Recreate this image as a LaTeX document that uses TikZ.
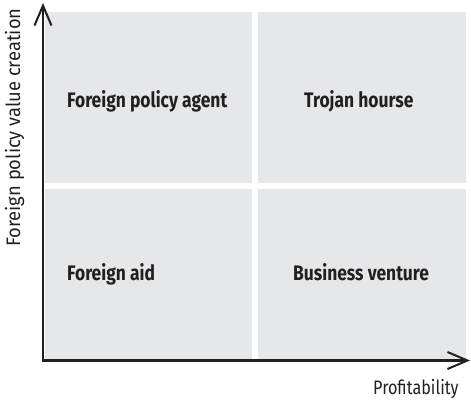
\documentclass[tikz,border=0pt]{standalone}
\usepackage{fontspec}
\setmainfont[FakeStretch=0.83]{Fira Sans}
\newfontfamily\widesans[FakeStretch=0.94]{Fira Sans}
\usetikzlibrary{arrows.meta}
\definecolor{quad}{HTML}{E6E7E8}
\definecolor{axis}{HTML}{231F20}
\begin{document}
\begin{tikzpicture}[x=1pt,y=-1pt,
  quadrant/.style={fill=quad,draw=none},
  axisline/.style={draw=axis,line width=2.4pt,-{Straight Barb[length=20pt,width=17pt,line width=2pt]}},
  label/.style={font=\fontsize{21}{25}\selectfont\bfseries,text=axis,inner sep=0pt,anchor=base west},
  axislabel/.style={font=\fontsize{19.5}{23}\selectfont,text=axis,inner sep=0pt,anchor=base west}]
  \useasboundingbox (0,0) rectangle (471,400);
  % four quadrants
  \fill[quadrant] (45,12) rectangle (252,183);
  \fill[quadrant] (258,12) rectangle (466,183);
  \fill[quadrant] (45,189) rectangle (252,359.5);
  \fill[quadrant] (258,189) rectangle (466,359.5);
  % axes
  \coordinate (origin) at (43,360.5);
  \coordinate (ytop) at (43,3);
  \coordinate (xend) at (470,360.5);
  \coordinate (xstart) at (41.8,360.5);
  \draw[axisline] (origin) -- (ytop);
  \draw[axisline] (xstart) -- (xend);
  % quadrant labels
  \node[label] (agent) at (67,107) {Foreign policy agent};
  \node[label] (trojan) at (304,107) {Trojan hourse};
  \node[label] (aid) at (67,280) {Foreign aid};
  \node[label] (venture) at (293,280) {Business venture};
  % axis labels
  \node[axislabel] (xlabel) at (373,394) {Profitability};
  \node[axislabel,font=\fontsize{19.5}{23}\selectfont\widesans,rotate=90] (ylabel) at (20,247) {Foreign policy value creation};
\end{tikzpicture}
\end{document}
